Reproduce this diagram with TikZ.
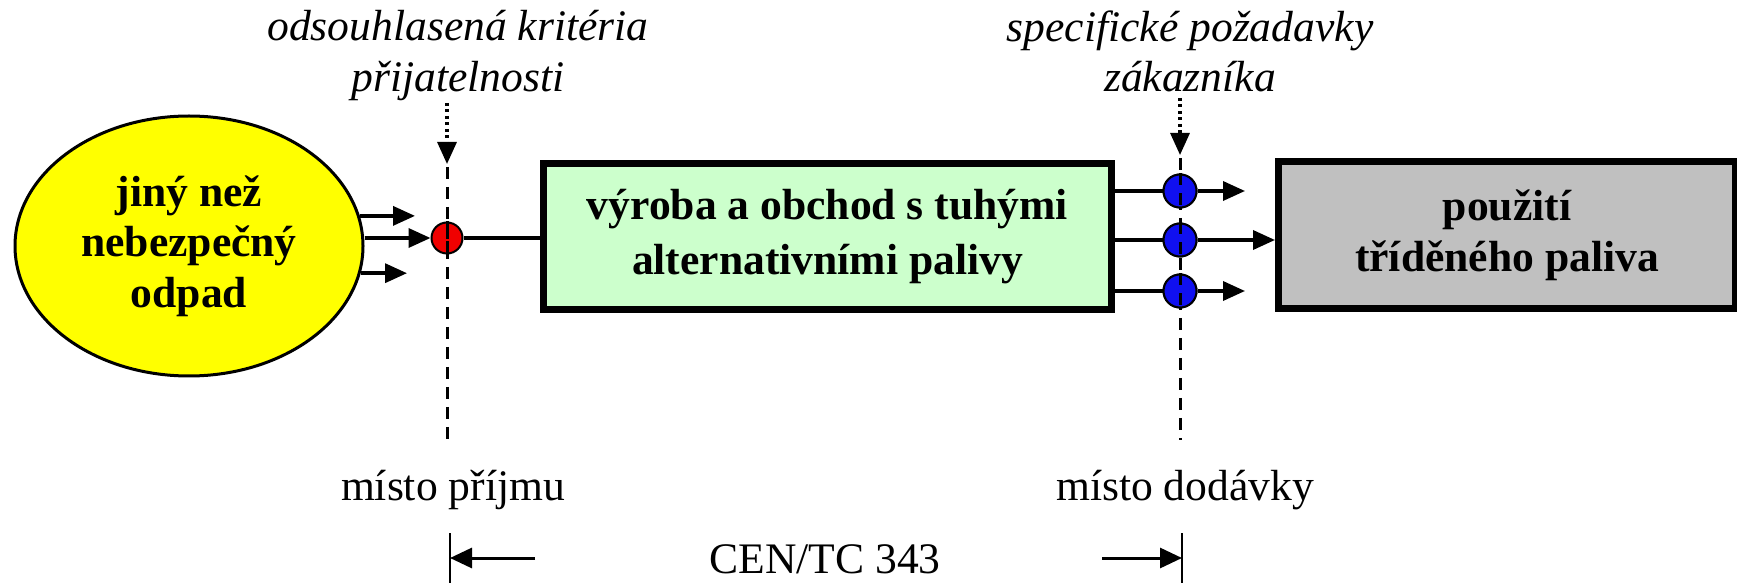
\documentclass[tikz,border=0pt]{standalone}
\usepackage{fontspec}
\setmainfont{Liberation Serif}
\usetikzlibrary{arrows.meta,positioning,shapes.geometric}
\definecolor{zluta}{HTML}{FFFF00}
\definecolor{zelena}{HTML}{CCFFCC}
\definecolor{seda}{HTML}{C0C0C0}
\definecolor{cervena}{HTML}{F00000}
\definecolor{modra}{HTML}{1010F0}
\newcommand{\pismo}{\fontsize{12.4}{14.4}\selectfont}

\begin{document}
\begin{tikzpicture}[x=0.1mm,y=-0.1mm,font=\pismo,
  blok/.style={draw,line width=0.7mm,align=center,inner sep=0pt,font=\pismo\bfseries},
  bod/.style={circle,draw,line width=0.2mm,minimum size=3.3mm,inner sep=0pt},
  tok/.style={-{Triangle[length=2.2mm,width=1.9mm]},line width=0.35mm},
  tecky/.style={-{Triangle[length=2.2mm,width=1.9mm]},line width=0.32mm,dash pattern=on 0.3mm off 0.35mm},
  carky/.style={line width=0.3mm,dash pattern=on 1.2mm off 0.8mm},
  mez/.style={-{Triangle[length=2.2mm,width=2mm]},line width=0.3mm},
  pozn/.style={align=center,inner sep=0pt,font=\pismo\itshape}]
\useasboundingbox[fill=white] (0,0) rectangle (1737,583);
\clip (0,0) rectangle (1737,583);

\node[ellipse,draw,line width=0.3mm,fill=zluta,minimum width=34.8mm,minimum height=26mm,
      inner sep=0pt,align=center,font=\pismo\bfseries] (odpad) at (189,246) {jiný než\\nebezpečný\\odpad};
\node[bod,fill=cervena,minimum size=3.1mm] (prijem) at (447,238) {};
\node[blok,fill=zelena,minimum width=56.8mm,minimum height=14.6mm,
      font=\fontsize{12.4}{15.6}\selectfont\bfseries] (vyroba) at (827.5,236.5)
      {výroba a obchod s tuhými\\alternativními palivy};
\node[blok,fill=seda,minimum width=45.7mm,minimum height=14.7mm] (pouziti) at (1507,235)
      {použití\\tříděného paliva};
\node[bod,fill=modra] (d1) at (1180,191) {};
\node[bod,fill=modra] (d2) at (1180,240) {};
\node[bod,fill=modra] (d3) at (1180,291) {};

\node[pozn,anchor=north] (kriteria) at (458,10) {odsouhlasená kritéria\\přijatelnosti};
\node[pozn,anchor=north] (pozadavky) at (1190,10) {specifické požadavky\\zákazníka};
\node[anchor=base] (mprijmu) at (453,500) {místo příjmu};
\node[anchor=base] (mdodavky) at (1185,500) {místo dodávky};
\node[anchor=base] (cen) at (825,573) {CEN/TC 343};

\coordinate (k1) at (415,213);
\coordinate (k3) at (407,270);
\coordinate (s1) at (1245,191);
\coordinate (s3) at (1245,291);
\coordinate (h1) at (447,103);
\coordinate (h2) at (1180,98);
\coordinate (p1) at (447,442);
\coordinate (p2) at (1180,440);
\coordinate (z1) at (450,533);
\coordinate (z2) at (1182,533);
\coordinate (a1) at (535,558);
\coordinate (a2) at (1102,558);

\draw[tok] (odpad.10) -- (odpad.10 -| k1);
\draw[tok] (odpad.-9) -- (odpad.-9 -| k3);
\draw[tok] (odpad.east |- prijem) -- (prijem);
\draw[line width=0.35mm] (prijem) -- (prijem -| vyroba.west);

\draw[carky] (prijem |- 0,167) -- (p1);
\draw[tecky] (h1) -- (prijem |- 0,164);
\draw[carky] (d1 |- 0,158) -- (p2);
\draw[tecky] (h2) -- (d1 |- 0,155);

\foreach \d in {d1,d2,d3}
  \draw[line width=0.35mm] (vyroba.east |- \d) -- (\d);
\foreach \d in {d1,d2,d3}
  \node[bod,fill=modra] at (\d) {};
\draw[carky] (d1.north) -- (d1.south) (d2.north) -- (d2.south) (d3.north) -- (d3.south);
\draw[carky] (prijem.north) -- (prijem.south);

\draw[tok] (d1) -- (s1);
\draw[tok] (d3) -- (s3);
\draw[tok] (d2) -- (pouziti.west |- d2);

\draw[line width=0.2mm] (z1) -- +(0,60);
\draw[line width=0.2mm] (z2) -- +(0,60);
\draw[mez] (a1) -- (a1 -| z1);
\draw[mez] (a2) -- (a2 -| z2);
\end{tikzpicture}
\end{document}
